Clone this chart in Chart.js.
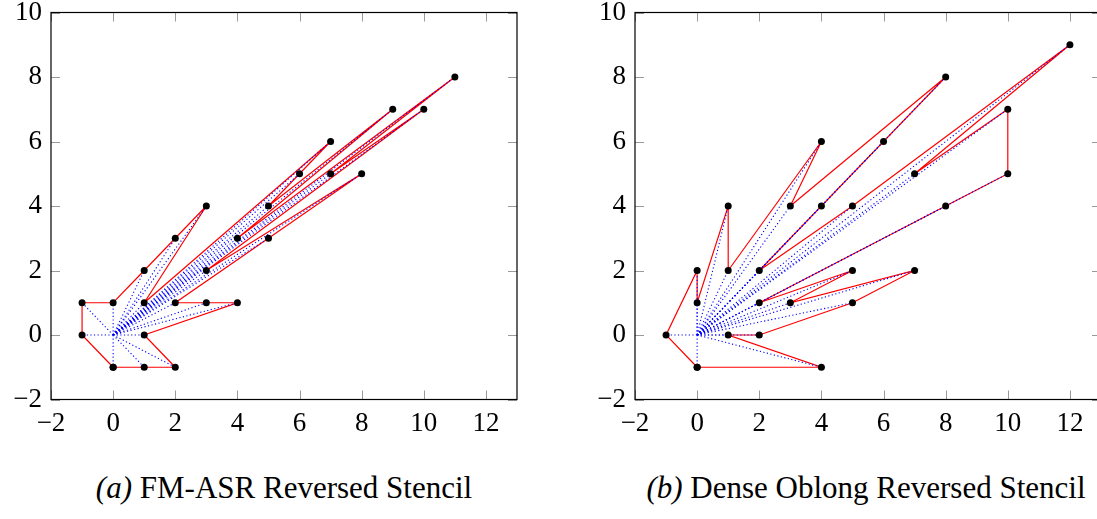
<!DOCTYPE html>
<html>
<head>
<meta charset="utf-8">
<script src="https://cdn.jsdelivr.net/npm/chart.js@4"></script>
<style>
  html, body { margin: 0; padding: 0; background: #fff; overflow: hidden; }
  body { width: 1097px; height: 519px; position: relative; }
  .box { position: absolute; top: 0; width: 540px; height: 445px; }
  .cap { position: absolute; top: 470px; font-family: "Liberation Serif", "DejaVu Serif", serif; font-size: 31px; line-height: 36px; color: #000; white-space: nowrap; transform: translateX(-50%); }
</style>
</head>
<body>
<div class="box" style="left:0px"><canvas id="chartA"></canvas></div>
<div class="box" style="left:584px"><canvas id="chartB"></canvas></div>
<div class="cap" style="left:284px"><i>(a)</i> FM-ASR Reversed Stencil</div>
<div class="cap" style="left:866px"><i>(b)</i> Dense Oblong Reversed Stencil</div>
<script>
// tick labels
const xTicks = [-2, 0, 2, 4, 6, 8, 10, 12];
const yTicks = [-2, 0, 2, 4, 6, 8, 10];

// (a) FM-ASR stencil, points in path order (closed)
const xA = [0, 1, 2, 1, 4, 3, 2, 5, 8, 3, 10, 7, 11, 4, 9, 5, 6, 7, 1, 3, 2, 1, 0, -1, -1, 0];
const yA = [-1, -1, -1, 0, 1, 1, 1, 3, 5, 2, 7, 5, 8, 3, 7, 4, 5, 6, 1, 4, 3, 2, 1, 1, 0, -1];

// (b) Dense oblong stencil, points in path order (closed)
const xB = [0, 4, 1, 2, 5, 7, 3, 5, 2, 8, 10, 10, 7, 12, 5, 2, 4, 6, 8, 3, 4, 1, 1, 0, 0, -1, 0];
const yB = [-1, -1, 0, 0, 1, 2, 1, 2, 1, 4, 5, 7, 5, 9, 4, 2, 4, 6, 8, 4, 6, 2, 4, 1, 2, 0, -1];

const fontFam = '"Liberation Serif", "DejaVu Serif", serif';

function fmt(v) {
    return v < 0 ? '\u2212' + Math.abs(v) : String(v);
}

// frame + inward ticks like pgfplots
const framePlugin = {
    id: 'frame',
    afterDraw(chart) {
        const ctx = chart.ctx;
        const a = chart.chartArea;
        const xs = chart.scales.x, ys = chart.scales.y;
        const len = 9;
        ctx.save();
        ctx.strokeStyle = '#9a9a9a';
        ctx.lineWidth = 1;
        ctx.beginPath();
        xTicks.forEach(v => {
            const p = Math.round(xs.getPixelForValue(v)) + 0.5;
            ctx.moveTo(p, a.bottom); ctx.lineTo(p, a.bottom - len);
            ctx.moveTo(p, a.top); ctx.lineTo(p, a.top + len);
        });
        yTicks.forEach(v => {
            const p = Math.round(ys.getPixelForValue(v)) + 0.5;
            ctx.moveTo(a.left, p); ctx.lineTo(a.left + len, p);
            ctx.moveTo(a.right, p); ctx.lineTo(a.right - len, p);
        });
        ctx.stroke();
        ctx.strokeStyle = '#000';
        ctx.lineWidth = 1.2;
        ctx.strokeRect(a.left, a.top, a.right - a.left, a.bottom - a.top);
        ctx.restore();
    }
};

function createChart(id, xs, ys) {
    const pts = xs.map((x, i) => ({ x: x, y: ys[i] }));
    const datasets = [];

    datasets.push({
        data: pts,
        showLine: false,
        pointRadius: 3.5,
        pointBackgroundColor: '#000',
        pointBorderWidth: 0
    });

    // dotted rays from the origin to every stencil point
    pts.slice(0, pts.length - 1).forEach(p => {
        datasets.push({
            data: [{ x: 0, y: 0 }, p],
            showLine: true,
            borderColor: '#0000ff',
            borderWidth: 1.1,
            borderDash: [1.2, 2.4],
            pointRadius: 0
        });
    });

    datasets.push({
        data: pts,
        showLine: true,
        borderColor: '#ff0000',
        borderWidth: 1.2,
        pointRadius: 0
    });

    new Chart(document.getElementById(id), {
        type: 'scatter',
        data: { datasets: datasets },
        options: {
            responsive: true,
            maintainAspectRatio: false,
            animation: false,
            events: [],
            layout: { padding: { top: 12.5, right: 23, left: 0, bottom: 0.5 } },
            plugins: { legend: { display: false }, tooltip: { enabled: false } },
            scales: {
                x: {
                    type: 'linear',
                    min: -2, max: 13,
                    grid: { display: false, drawTicks: false },
                    border: { display: false },
                    afterBuildTicks: s => { s.ticks = xTicks.map(v => ({ value: v })); },
                    afterFit: s => { s.height = 45; s.paddingLeft = 0; s.paddingRight = 0; },
                    ticks: {
                        padding: 8,
                        maxRotation: 0,
                        autoSkip: false,
                        color: '#000',
                        font: { family: fontFam, size: 27 },
                        callback: v => fmt(v)
                    }
                },
                y: {
                    type: 'linear',
                    min: -2, max: 10,
                    grid: { display: false, drawTicks: false },
                    border: { display: false },
                    afterBuildTicks: s => { s.ticks = yTicks.map(v => ({ value: v })); },
                    afterFit: s => { s.width = 51; s.paddingTop = 0; s.paddingBottom = 0; },
                    ticks: {
                        padding: 9,
                        autoSkip: false,
                        color: '#000',
                        font: { family: fontFam, size: 27 },
                        callback: v => fmt(v)
                    }
                }
            }
        },
        plugins: [framePlugin]
    });
}

createChart('chartA', xA, yA);
createChart('chartB', xB, yB);
</script>
</body>
</html>
